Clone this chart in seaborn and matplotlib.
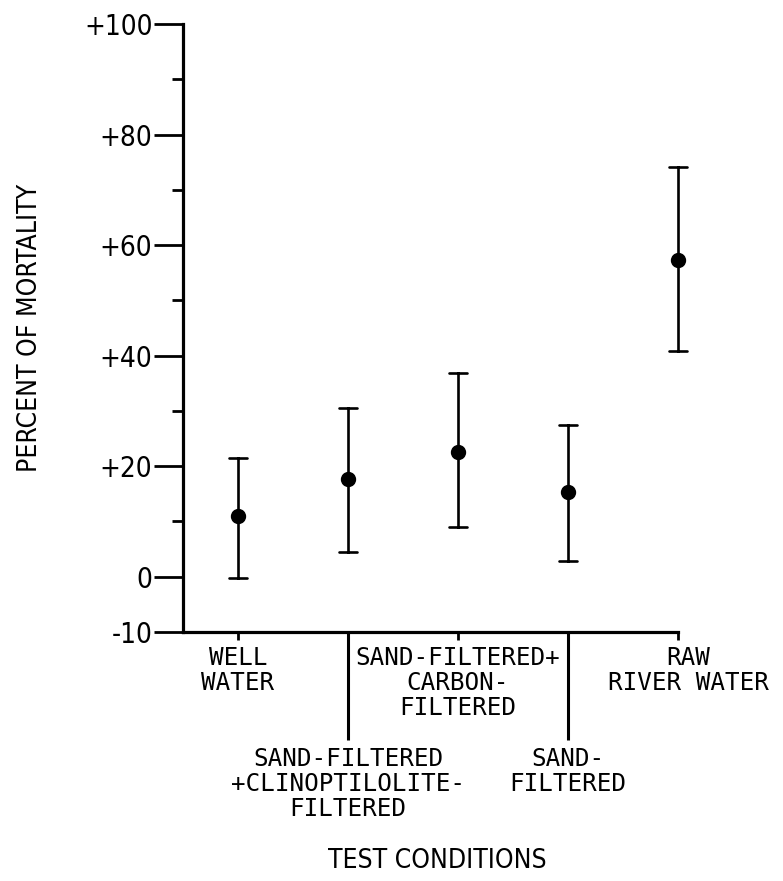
import matplotlib
matplotlib.use("Agg")
import matplotlib.pyplot as plt
from matplotlib import font_manager as fm
from matplotlib.transforms import ScaledTranslation
import seaborn as sns
import pandas as pd

# ---- data ----
conditions = [
    "WELL\nWATER",
    "SAND-FILTERED\n+CLINOPTILOLITE-\nFILTERED",
    "SAND-FILTERED+\nCARBON-\nFILTERED",
    "SAND-\nFILTERED",
    "RAW\nRIVER WATER",
]
mortality = [11.0, 17.7, 22.5, 15.3, 57.3]
err_low = [-0.3, 4.5, 9.0, 2.9, 40.9]
err_high = [21.4, 30.5, 36.9, 27.4, 74.1]
ytick_values = [-10, 0, 20, 40, 60, 80, 100]
ytick_labels = ["-10", "0", "+20", "+40", "+60", "+80", "+100"]
yminor_values = [10, 30, 50, 70, 90]

# long table: the median of (low, mid, high) is the plotted point, min/max the bar
rows = []
for c, lo, m, hi in zip(conditions, err_low, mortality, err_high):
    for v in (lo, m, hi):
        rows.append({"condition": c, "value": v})
df = pd.DataFrame(rows)

sns.set_style("ticks")
names = {f.name for f in fm.fontManager.ttflist}
if "Liberation Sans Narrow" in names:
    cond_family, cond_stretch = "Liberation Sans Narrow", "normal"
else:
    cond_family, cond_stretch = "DejaVu Sans", "condensed"
mono_family = "DejaVu Sans Mono"
plt.rcParams["font.family"] = [cond_family, "DejaVu Sans"]
for k in ("text.color", "axes.labelcolor", "xtick.color", "ytick.color",
          "axes.edgecolor"):
    plt.rcParams[k] = "black"

fig = plt.figure(figsize=(7.83, 8.81), dpi=100)
ax = fig.add_axes([183 / 783, 249 / 881, 600 / 783, 608 / 881])

sns.pointplot(
    data=df, x="condition", y="value", order=conditions,
    estimator="median", errorbar=lambda v: (v.min(), v.max()),
    linestyle="none", marker="o", markersize=9, color="black",
    capsize=0.16, err_kws={"linewidth": 1.9}, ax=ax,
)

ax.set_xlim(-0.5, -0.5 + 600 / 110)
ax.set_ylim(-10, 100)

for s in ("top", "right"):
    ax.spines[s].set_visible(False)
for s in ("left", "bottom"):
    ax.spines[s].set_linewidth(2.3)
    ax.spines[s].set_color("black")
ax.spines["bottom"].set_bounds(-0.5, 4)
ax.spines["left"].set_bounds(-10, 100)

# y axis
ax.set_yticks(ytick_values)
ax.set_yticklabels(ytick_labels)
ax.set_yticks(yminor_values, minor=True)
ax.tick_params(axis="y", which="major", length=21, width=2, pad=1,
               labelsize=20, color="black", labelcolor="black")
ax.tick_params(axis="y", which="minor", length=8, width=2, color="black")
for lab in ax.get_yticklabels():
    lab.set_fontstretch(cond_stretch)

# x axis
ax.set_xticks(range(len(conditions)))
ax.set_xticklabels(conditions)
ax.tick_params(axis="x", which="major", length=6, width=2, color="black",
               labelsize=17.5, labelcolor="black")
for i, (tick, lab) in enumerate(zip(ax.xaxis.get_major_ticks(), ax.get_xticklabels())):
    if i in (1, 3):
        tick.set_pad(77)
        tick.tick1line.set_markersize(78)
        tick.tick1line.set_markeredgewidth(2.2)
    else:
        tick.set_pad(4)
    lab.set_fontfamily(mono_family)
    lab.set_multialignment("center")
    lab.set_linespacing(1.05)
    if i == 4:
        lab.set_transform(lab.get_transform() +
                          ScaledTranslation(10 / 100, 0, fig.dpi_scale_trans))

ax.set_xlabel("TEST CONDITIONS", fontsize=19, fontstretch=cond_stretch)
ax.xaxis.set_label_coords((437 - 183) / 600, (632 - 861) / 608)
ax.xaxis.label.set_va("center")
ax.set_ylabel("PERCENT OF MORTALITY", fontsize=19, fontstretch=cond_stretch)
ax.yaxis.set_label_coords((30 - 183) / 600, 0.5)
ax.yaxis.label.set_va("center")

fig.savefig("out.png", dpi=100, facecolor="white")
